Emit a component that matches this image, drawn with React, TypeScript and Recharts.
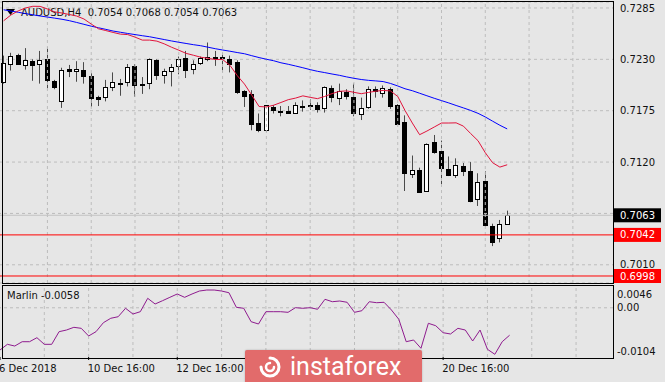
import React from 'react';
import { ComposedChart, Bar, Line, XAxis, YAxis, CartesianGrid, ReferenceLine } from 'recharts';

const FONT = 'DejaVu Sans';
const BG = '#e6e6e6';
const GRID = '#bdbdbd';

// AUDUSD H4 bars
const open = [
  0.7206, 0.7225, 0.7235, 0.7224, 0.7228, 0.7225, 0.7230, 0.7207, 0.7185, 0.7220,
  0.7218, 0.7219, 0.7212, 0.7190, 0.7190, 0.7200, 0.7205, 0.7206, 0.7223, 0.7204,
  0.7205, 0.7229, 0.7213, 0.7218, 0.7223, 0.7231, 0.7220, 0.7226, 0.7230, 0.7233,
  0.7233, 0.7230, 0.7227, 0.7196, 0.7193, 0.7162, 0.7154, 0.7179, 0.7175, 0.7175,
  0.7173, 0.7180, 0.7181, 0.7181, 0.7178, 0.7199, 0.7189, 0.7195, 0.7190, 0.7172,
  0.7179, 0.7198, 0.7194, 0.7198, 0.7181, 0.7163, 0.7107, 0.7112, 0.7089, 0.7141,
  0.7132, 0.7113, 0.7106, 0.7116, 0.7110, 0.7080, 0.7100, 0.7052, 0.7039, 0.7054,
];
const high = [
  0.7234, 0.7237, 0.7236, 0.7242, 0.7230, 0.7239, 0.7243, 0.7208, 0.7221, 0.7224,
  0.7228, 0.7227, 0.7215, 0.7191, 0.7208, 0.7216, 0.7209, 0.7225, 0.7225, 0.7211,
  0.7231, 0.7230, 0.7220, 0.7225, 0.7233, 0.7239, 0.7229, 0.7233, 0.7248, 0.7239,
  0.7237, 0.7234, 0.7229, 0.7197, 0.7197, 0.7172, 0.7181, 0.7181, 0.7180, 0.7180,
  0.7184, 0.7186, 0.7187, 0.7184, 0.7201, 0.7202, 0.7204, 0.7198, 0.7204, 0.7189,
  0.7201, 0.7201, 0.7202, 0.7200, 0.7182, 0.7170, 0.7127, 0.7114, 0.7140, 0.7149,
  0.7143, 0.7126, 0.7124, 0.7119, 0.7120, 0.7108, 0.7110, 0.7054, 0.7058, 0.7068,
];
const low = [
  0.7204, 0.7218, 0.7224, 0.7219, 0.7207, 0.7204, 0.7199, 0.7198, 0.7178, 0.7211,
  0.7206, 0.7204, 0.7179, 0.7180, 0.7185, 0.7196, 0.7191, 0.7201, 0.7190, 0.7193,
  0.7198, 0.7208, 0.7204, 0.7201, 0.7214, 0.7210, 0.7214, 0.7224, 0.7228, 0.7223,
  0.7216, 0.7216, 0.7193, 0.7179, 0.7154, 0.7152, 0.7152, 0.7172, 0.7169, 0.7172,
  0.7172, 0.7174, 0.7176, 0.7173, 0.7173, 0.7184, 0.7181, 0.7187, 0.7169, 0.7165,
  0.7177, 0.7189, 0.7189, 0.7177, 0.7160, 0.7089, 0.7103, 0.7087, 0.7088, 0.7129,
  0.7096, 0.7105, 0.7103, 0.7105, 0.7077, 0.7073, 0.7051, 0.7030, 0.7034, 0.7054,
];
const close = [
  0.7226, 0.7234, 0.7225, 0.7229, 0.7224, 0.7229, 0.7208, 0.7200, 0.7219, 0.7218,
  0.7220, 0.7212, 0.7189, 0.7188, 0.7200, 0.7206, 0.7204, 0.7222, 0.7202, 0.7203,
  0.7230, 0.7213, 0.7218, 0.7222, 0.7230, 0.7219, 0.7225, 0.7231, 0.7233, 0.7232,
  0.7231, 0.7225, 0.7195, 0.7191, 0.7161, 0.7154, 0.7181, 0.7176, 0.7174, 0.7173,
  0.7181, 0.7180, 0.7180, 0.7177, 0.7200, 0.7190, 0.7196, 0.7191, 0.7173, 0.7178,
  0.7198, 0.7196, 0.7199, 0.7180, 0.7161, 0.7108, 0.7111, 0.7088, 0.7139, 0.7131,
  0.7114, 0.7106, 0.7117, 0.7110, 0.7078, 0.7099, 0.7053, 0.7034, 0.7054, 0.7063,
];

// moving averages (red = fast, blue = slow)
const fastMa = [
  0.72713, 0.72775, 0.72819, 0.72850, 0.72868, 0.72867, 0.72839, 0.72808, 0.72796, 0.72780,
  0.72764, 0.72732, 0.72678, 0.72627, 0.72608, 0.72588, 0.72570, 0.72565, 0.72538, 0.72506,
  0.72506, 0.72495, 0.72466, 0.72430, 0.72398, 0.72364, 0.72344, 0.72323, 0.72311, 0.72298,
  0.72298, 0.72237, 0.72127, 0.72035, 0.71917, 0.71795, 0.71790, 0.71809, 0.71838, 0.71868,
  0.71885, 0.71909, 0.71893, 0.71879, 0.71903, 0.71933, 0.71957, 0.71962, 0.71947, 0.71932,
  0.71946, 0.71959, 0.71967, 0.71962, 0.71903, 0.71752, 0.71618, 0.71493, 0.71532, 0.71575,
  0.71618, 0.71618, 0.71620, 0.71585, 0.71505, 0.71429, 0.71300, 0.71193, 0.71146, 0.71171,
];
const slowMa = [
  0.72831, 0.72817, 0.72804, 0.72790, 0.72777, 0.72764, 0.72753, 0.72741, 0.72729, 0.72714,
  0.72695, 0.72675, 0.72655, 0.72638, 0.72621, 0.72603, 0.72590, 0.72577, 0.72565, 0.72553,
  0.72542, 0.72527, 0.72512, 0.72497, 0.72483, 0.72470, 0.72457, 0.72446, 0.72430, 0.72414,
  0.72400, 0.72387, 0.72373, 0.72360, 0.72339, 0.72319, 0.72301, 0.72285, 0.72263, 0.72247,
  0.72229, 0.72210, 0.72190, 0.72172, 0.72158, 0.72143, 0.72129, 0.72112, 0.72097, 0.72084,
  0.72075, 0.72069, 0.72062, 0.72042, 0.72015, 0.71985, 0.71964, 0.71937, 0.71910, 0.71883,
  0.71858, 0.71833, 0.71806, 0.71780, 0.71753, 0.71722, 0.71683, 0.71638, 0.71594, 0.71555,
];

// Marlin oscillator (lower window)
const marlin = [
  -0.00892, -0.00772, -0.00808, -0.00717, -0.00717, -0.00632, -0.00772, -0.00772, -0.00505, -0.00470,
  -0.00413, -0.00434, -0.00596, -0.00505, -0.00315, -0.00222, -0.00189, -0.00011, -0.00132, -0.00083,
  0.00200, 0.00080, 0.00149, 0.00221, 0.00291, 0.00221, 0.00291, 0.00354, 0.00375, 0.00375,
  0.00354, 0.00318, 0.00010, -0.00011, -0.00294, -0.00343, -0.00083, -0.00083, -0.00083, -0.00096,
  0.00002, -0.00011, 0.00002, -0.00032, 0.00179, 0.00128, 0.00143, 0.00116, -0.00096, -0.00062,
  0.00128, 0.00107, 0.00116, -0.00047, -0.00244, -0.00717, -0.00681, -0.00856, -0.00328, -0.00379,
  -0.00527, -0.00554, -0.00434, -0.00470, -0.00702, -0.00470, -0.00877, -0.00983, -0.00717, -0.00580,
];

const SLOTS = 84; // visible bar slots, incl. empty space right of last bar
// time labels that are not hidden by the watermark
const timeIdx = [0, 12, 24, 60];
const timeLabels = ['6 Dec 2018', '10 Dec 16:00', '12 Dec 16:00', '20 Dec 16:00'];
const gridIdx = [6, 12, 18, 24, 30, 36, 42, 48, 54, 60, 66, 72, 78];
const priceTicks = [0.7010, 0.7120, 0.7175, 0.7230, 0.7285];
const hiddenGridLevel = 0.7065;
const priceDomain = [0.69905, 0.72914];
const marlinTicks = [0.0046, 0, -0.0104];
const marlinLabels = ['0.0046', '0.00', '-0.0104'];
const bidPrice = 0.7063;
const supportLevels = [0.7042, 0.6998];

const rows = Array.from({ length: SLOTS }, (_, i) =>
  i < open.length
    ? { i, open: open[i], high: high[i], low: low[i], close: close[i], fast: fastMa[i], slow: slowMa[i], marlin: marlin[i] }
    : { i }
);

const Candle = (props: any) => {
  const { x, y, width, height, payload } = props;
  if (payload == null || payload.open == null) return null;
  const top = Math.min(y, y + height);
  const bot = Math.max(y, y + height);
  const span = payload.high - payload.low;
  const k = span > 0 ? (bot - top) / span : 0;
  const py = (v: number) => top + (payload.high - v) * k;
  const cx = Math.floor(x + width / 2) + 0.5;
  const bull = payload.close >= payload.open;
  const bTop = Math.round(py(Math.max(payload.open, payload.close))) + 0.5;
  const bBot = Math.max(bTop + 1, Math.round(py(Math.min(payload.open, payload.close))) + 0.5);
  return (
    <g>
      <line x1={cx} x2={cx} y1={top} y2={bot} stroke="#4a4a4a" strokeWidth={1} />
      <rect x={cx - 2} y={bTop} width={4} height={bBot - bTop} fill={bull ? '#ffffff' : '#000000'} stroke="#000000" strokeWidth={1} />
    </g>
  );
};

const PriceTag = (props: any) => {
  const { viewBox, text, bg } = props;
  if (!viewBox) return null;
  const x0 = viewBox.x + viewBox.width;
  return (
    <g>
      <rect x={x0 + 1} y={viewBox.y - 7} width={47} height={14} fill={bg} />
      <text x={x0 + 7} y={viewBox.y} dy="0.355em" fill="#ffffff" fontSize={10} fontFamily={FONT}>{text}</text>
    </g>
  );
};

const TimeTick = (props: any) => {
  const { x, y, payload } = props;
  const k = timeIdx.indexOf(payload.value);
  return (
    <text x={x - 1} y={y} dy={10} textAnchor="start" fontSize={10} fontFamily={FONT} fill="#111">
      {k >= 0 ? timeLabels[k] : ''}
    </text>
  );
};

const MarlinTick = (props: any) => {
  const { x, y, payload } = props;
  const v = payload.value;
  const k = marlinTicks.indexOf(v);
  const off = v > 0 ? 8 : v < 0 ? -6 : 0;
  return (
    <text x={x} y={y + off} dy="0.355em" textAnchor="start" fontSize={10} fontFamily={FONT} fill="#111">
      {k >= 0 ? marlinLabels[k] : ''}
    </text>
  );
};

const vGrid = gridIdx.map((g) => (
  <ReferenceLine key={'v' + g} x={g} stroke={GRID} strokeDasharray="3 3" />
));

export default function App() {
  return (
    <div style={{ position: 'absolute', left: 0, top: 0, width: 665, height: 382, background: BG, overflow: 'hidden', fontFamily: FONT }}>
      {/* symbol caption */}
      <svg style={{ position: 'absolute', left: 6, top: 9 }} width={10} height={7}>
        <polygon points="0,0 9,0 4.5,6" fill="#000" />
      </svg>
      <div style={{ position: 'absolute', left: 21, top: 7, fontSize: 10, lineHeight: '12px', color: '#111', whiteSpace: 'pre' }}>
        AUDUSD,H4  0.7054 0.7068 0.7054 0.7063
      </div>
      <div style={{ position: 'absolute', left: 7, top: 290, fontSize: 10, lineHeight: '12px', color: '#111', whiteSpace: 'pre' }}>
        Marlin -0.0058
      </div>

      <div style={{ position: 'absolute', left: 0, top: 0 }}>
        <ComposedChart width={665} height={285} data={rows} margin={{ top: 2, right: 0, bottom: 2, left: 0 }}>
          <CartesianGrid vertical={false} stroke={GRID} strokeDasharray="3 3" />
          <XAxis dataKey="i" hide />
          <YAxis
            orientation="right"
            width={52}
            domain={priceDomain}
            allowDataOverflow
            ticks={priceTicks}
            interval={0}
            tickFormatter={(v: number) => v.toFixed(4)}
            tick={{ fill: '#111', fontSize: 10, fontFamily: FONT }}
            tickLine={false}
            axisLine={false}
            tickSize={4}
            tickMargin={3}
          />
          {vGrid}
          <ReferenceLine y={hiddenGridLevel} stroke={GRID} strokeDasharray="3 3" />
          <ReferenceLine y={bidPrice} stroke="#c4c4c4" label={<PriceTag text={bidPrice.toFixed(4)} bg="#000000" />} />
          {supportLevels.map((lv) => (
            <ReferenceLine key={lv} y={lv} stroke="#ff0000" label={<PriceTag text={lv.toFixed(4)} bg="#ff0000" />} />
          ))}
          <Bar
            dataKey={(d: any) => (d.high == null ? null : [d.low, d.high])}
            barSize={5}
            shape={(p: any) => <Candle {...p} />}
            isAnimationActive={false}
          />
          <Line dataKey="slow" stroke="#0000ff" strokeWidth={1} dot={false} activeDot={false} isAnimationActive={false} />
          <Line dataKey="fast" stroke="#e0143c" strokeWidth={1} dot={false} activeDot={false} isAnimationActive={false} />
        </ComposedChart>
      </div>

      <div style={{ position: 'absolute', left: 0, top: 285 }}>
        <ComposedChart width={665} height={97} data={rows} margin={{ top: 1, right: 0, bottom: 1, left: 0 }}>
          <XAxis
            dataKey="i"
            ticks={timeIdx}
            interval={0}
            height={24}
            tick={<TimeTick />}
            tickLine={{ stroke: '#000' }}
            tickSize={3}
            axisLine={false}
          />
          <YAxis
            orientation="right"
            width={52}
            domain={[-0.0104, 0.0046]}
            allowDataOverflow
            ticks={marlinTicks}
            interval={0}
            tick={<MarlinTick />}
            tickLine={false}
            axisLine={false}
            tickSize={0}
            tickMargin={4}
          />
          {vGrid}
          <ReferenceLine y={0} stroke={GRID} strokeDasharray="3 3" />
          <Line dataKey="marlin" stroke="#8e1b8e" strokeWidth={1} dot={false} activeDot={false} isAnimationActive={false} />
        </ComposedChart>
      </div>

      {/* window frames */}
      <div style={{ position: 'absolute', left: 2, top: 1, width: 612, height: 283, border: '1px solid #000', boxSizing: 'border-box', pointerEvents: 'none' }} />
      <div style={{ position: 'absolute', left: 2, top: 285, width: 612, height: 74, border: '1px solid #000', boxSizing: 'border-box', pointerEvents: 'none' }} />

      {/* watermark */}
      <div style={{ position: 'absolute', left: 245, top: 350, width: 177, height: 34, background: '#e26b6b', borderRadius: 2, boxShadow: '0 0 2px rgba(0,0,0,0.25)' }}>
        <svg style={{ position: 'absolute', left: 12, top: 5 }} width={26} height={24}>
          <path d="M13 3 A9 9 0 1 1 4 12" fill="none" stroke="#fff" strokeWidth={3} strokeLinecap="round" />
          <path d="M13 8 A4 4 0 1 0 17 12" fill="none" stroke="#fff" strokeWidth={2.5} strokeLinecap="round" />
        </svg>
        <div style={{ position: 'absolute', left: 45, top: 3, fontFamily: 'Roboto', fontSize: 25, lineHeight: '28px', color: '#ffffff' }}>
          instaforex
        </div>
      </div>
    </div>
  );
}
